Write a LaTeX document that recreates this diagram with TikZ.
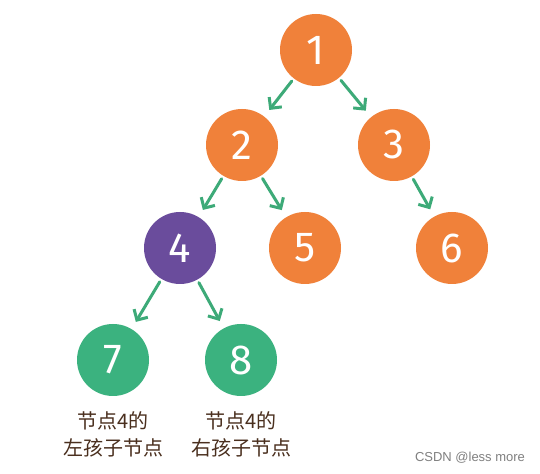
\documentclass[tikz,border=0pt]{standalone}
\usepackage{fontspec}
\newfontfamily\cjk{Noto Sans CJK SC}
\newfontfamily\numfont{Fira Sans}
\setsansfont{Liberation Sans}
\usetikzlibrary{arrows.meta}
\definecolor{orangenode}{HTML}{F0813A}
\definecolor{purplenode}{HTML}{6A4C9C}
\definecolor{greennode}{HTML}{3BB27F}
\definecolor{arrowgreen}{HTML}{3DAA78}
\definecolor{labelbrown}{HTML}{4A2F1E}
\tikzset{
  treenode/.style={circle, minimum size=36pt, inner sep=0pt, text=white,
    font=\numfont\fontsize{21}{21}\selectfont},
  orangen/.style={treenode, fill=orangenode},
  purplen/.style={treenode, fill=purplenode},
  greenn/.style={treenode, fill=greennode},
  edge/.style={draw=arrowgreen, line width=1.5pt, line cap=round,
    -{Straight Barb[length=4pt,width=8pt,line width=1.5pt]},
    shorten <=1.5pt, shorten >=4pt},
  caption/.style={text=labelbrown, font=\cjk\fontsize{10}{13.5}\selectfont, align=center},
}
\begin{document}
\begin{tikzpicture}[x=0.5pt,y=-0.5pt]
\useasboundingbox[fill=white] (0,0) rectangle (540,474);
\node[orangen] (n1) at (316,50) {1};
\node[orangen] (n2) at (242,145) {2};
\node[orangen] (n3) at (394,145) {3};
\node[purplen] (n4) at (180,248) {4};
\node[orangen] (n5) at (305,248) {5};
\node[orangen] (n6) at (452,248) {6};
\node[greenn] (n7) at (113,360) {7};
\node[greenn] (n8) at (241,360) {8};
\draw[edge] (n1) -- (n2);
\draw[edge] (n1) -- (n3);
\draw[edge] (n2) -- (n4);
\draw[edge] (n2) -- (n5);
\draw[edge] (n3) -- (n6);
\draw[edge] (n4) -- (n7);
\draw[edge] (n4) -- (n8);
\node[caption] (c7) at (113,434) {节点4的\\左孩子节点};
\node[caption] (c8) at (241,434) {节点4的\\右孩子节点};
\node[text=gray, font=\sffamily\fontsize{6.5}{7}\selectfont] (wm) at (470,458) {CSDN @less more};
\end{tikzpicture}
\end{document}
